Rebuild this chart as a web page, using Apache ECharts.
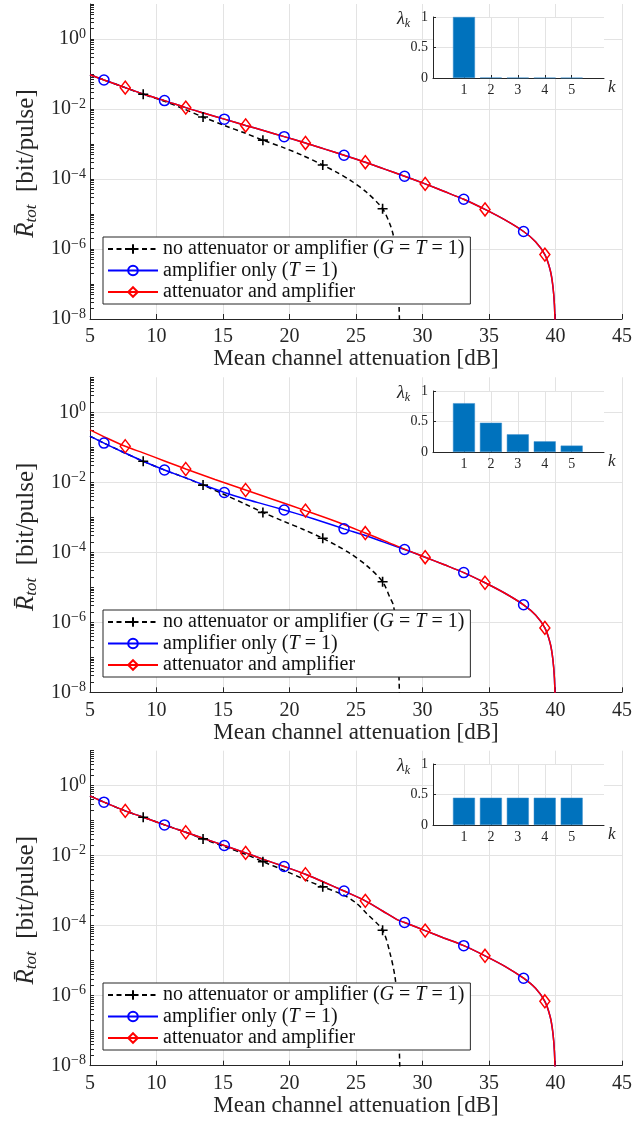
<!DOCTYPE html>
<html><head><meta charset="utf-8">
<script src="https://cdn.jsdelivr.net/npm/echarts@6/dist/echarts.min.js"></script>
<style>html,body{margin:0;padding:0;background:#fff}#c{width:644px;height:1125px}</style>
</head><body><div id="c"></div>
<script>
// ---------------- data (y values are log10 of R_tot [bit/pulse]) ----------------
const kValues = [1, 2, 3, 4, 5];
const lambda1 = [1, 0.008, 0.005, 0.004, 0.003];
const lambda2 = [0.8, 0.48, 0.29, 0.175, 0.105];
const lambda3 = [0.447, 0.447, 0.447, 0.447, 0.447];

const yTickExponents = [-8, -6, -4, -2, 0];
const xTicks = [5, 10, 15, 20, 25, 30, 35, 40, 45];

const markNone = [9.0, 13.5, 18.0, 22.5, 27.0];
const markAmp = [6.05, 10.6, 15.1, 19.6, 24.1, 28.65, 33.1, 37.6];
const markAtt = [7.65, 12.2, 16.7, 21.2, 25.7, 30.2, 34.7, 39.2];

// panel 1
const p1NoneX = [5.0, 6.05, 7.65, 9.0, 10.6, 12.0, 13.5, 15.1, 16.6, 18.0, 19.6, 21.0, 22.5, 23.6, 24.55, 25.8, 27.0, 27.56, 27.8, 28.0, 28.12, 28.2, 28.25, 28.3];
const p1NoneY = [-1.02, -1.17, -1.39, -1.58, -1.78, -1.99, -2.23, -2.47, -2.68, -2.89, -3.11, -3.33, -3.6, -3.82, -4.03, -4.38, -4.85, -5.3, -5.6, -6.05, -6.6, -7.2, -7.8, -8.6];
const p1AmpX = [5.0, 6.05, 7.65, 9.0, 10.6, 12.2, 13.6, 15.1, 16.7, 18.1, 19.6, 21.2, 22.6, 24.1, 25.7, 27.1, 28.65, 30.2, 31.6, 33.1, 34.7, 36.2, 37.6, 38.5, 39.2, 39.6, 39.8, 39.92, 40.0];
const p1AmpY = [-1.02, -1.17, -1.39, -1.57, -1.76, -1.96, -2.12, -2.29, -2.47, -2.62, -2.79, -2.97, -3.14, -3.32, -3.52, -3.71, -3.92, -4.14, -4.35, -4.58, -4.87, -5.17, -5.5, -5.79, -6.16, -6.6, -7.05, -7.6, -8.6];
const p1AttX = [5.0, 6.05, 7.65, 9.0, 10.6, 12.2, 13.6, 15.1, 16.7, 18.1, 19.6, 21.2, 22.6, 24.1, 25.7, 27.1, 28.65, 30.2, 31.6, 33.1, 34.7, 36.2, 37.6, 38.5, 39.2, 39.6, 39.8, 39.92, 40.0];
const p1AttY = [-1.02, -1.17, -1.39, -1.57, -1.76, -1.96, -2.12, -2.29, -2.47, -2.62, -2.79, -2.97, -3.14, -3.32, -3.52, -3.71, -3.92, -4.14, -4.35, -4.58, -4.87, -5.17, -5.5, -5.79, -6.16, -6.6, -7.05, -7.6, -8.6];

// panel 2
const p2NoneX = [5.0, 6.05, 7.5, 9.0, 10.6, 12.1, 13.5, 15.1, 16.6, 18.0, 19.6, 21.0, 22.5, 23.6, 24.55, 25.8, 27.0, 27.56, 27.8, 28.0, 28.12, 28.2, 28.25, 28.3];
const p2NoneY = [-0.68, -0.88, -1.14, -1.40, -1.65, -1.86, -2.08, -2.35, -2.61, -2.86, -3.12, -3.34, -3.6, -3.82, -4.03, -4.38, -4.84, -5.3, -5.5, -6.0, -6.6, -7.2, -7.8, -8.6];
const p2AmpX = [5.0, 6.05, 7.5, 9.0, 10.6, 12.1, 13.5, 15.1, 16.6, 18.1, 19.6, 21.1, 22.6, 24.1, 25.7, 27.1, 28.65, 30.2, 31.6, 33.1, 34.7, 36.2, 37.6, 38.5, 39.2, 39.6, 39.8, 39.92, 40.0];
const p2AmpY = [-0.68, -0.88, -1.14, -1.40, -1.65, -1.86, -2.07, -2.29, -2.47, -2.63, -2.79, -2.96, -3.14, -3.33, -3.52, -3.71, -3.92, -4.14, -4.35, -4.58, -4.87, -5.17, -5.5, -5.79, -6.16, -6.6, -7.05, -7.6, -8.6];
const p2AttX = [5.0, 6.3, 7.65, 9.0, 10.6, 12.2, 14.4, 16.7, 19.0, 21.2, 23.5, 25.7, 27.2, 28.65, 30.2, 31.6, 33.1, 34.7, 36.2, 37.6, 38.5, 39.2, 39.6, 39.8, 39.92, 40.0];
const p2AttY = [-0.5, -0.74, -0.97, -1.16, -1.39, -1.62, -1.92, -2.22, -2.52, -2.81, -3.12, -3.45, -3.68, -3.91, -4.14, -4.35, -4.58, -4.87, -5.17, -5.5, -5.79, -6.16, -6.6, -7.05, -7.6, -8.6];

// panel 3
const p3NoneX = [5.0, 6.05, 7.65, 9.0, 10.6, 12.2, 13.5, 15.1, 16.7, 18.0, 19.6, 21.2, 22.5, 24.05, 25.0, 25.8, 27.0, 27.56, 27.93, 28.1, 28.2, 28.27, 28.32];
const p3NoneY = [-0.29, -0.47, -0.72, -0.9, -1.12, -1.33, -1.52, -1.74, -1.96, -2.17, -2.42, -2.69, -2.89, -3.12, -3.35, -3.65, -4.13, -4.79, -5.46, -6.1, -6.9, -7.7, -8.6];
const p3AmpX = [5.0, 6.05, 7.65, 9.0, 10.6, 12.2, 13.5, 15.1, 16.7, 18.0, 19.6, 21.2, 22.6, 24.1, 25.7, 27.0, 28.05, 28.65, 30.2, 31.6, 33.1, 34.7, 36.2, 37.6, 38.5, 39.2, 39.6, 39.8, 39.92, 40.0];
const p3AmpY = [-0.29, -0.47, -0.72, -0.9, -1.12, -1.33, -1.5, -1.71, -1.92, -2.1, -2.31, -2.53, -2.76, -3.01, -3.29, -3.58, -3.82, -3.91, -4.14, -4.35, -4.57, -4.86, -5.16, -5.5, -5.79, -6.16, -6.6, -7.05, -7.6, -8.6];
const p3AttX = p3AmpX.slice();
const p3AttY = [-0.29, -0.47, -0.72, -0.9, -1.12, -1.33, -1.5, -1.71, -1.92, -2.1, -2.31, -2.53, -2.76, -3.01, -3.29, -3.58, -3.82, -3.91, -4.14, -4.35, -4.57, -4.86, -5.16, -5.5, -5.79, -6.16, -6.6, -7.05, -7.6, -8.6];

const seriesNames = ['no attenuator or amplifier (G = T = 1)', 'amplifier only (T = 1)', 'attenuator and amplifier'];

// ---------------- layout & style ----------------
const FONT = 'Liberation Serif';
const AX = '#262626';
const GRIDC = '#e3e3e3';
const mainTops = [4, 377.3, 750.7];
const insetTops = [17, 391, 764];
const legendTops = [237, 610, 983];

const panels = [
  {none: [p1NoneX, p1NoneY], amp: [p1AmpX, p1AmpY], att: [p1AttX, p1AttY], lam: lambda1},
  {none: [p2NoneX, p2NoneY], amp: [p2AmpX, p2AmpY], att: [p2AttX, p2AttY], lam: lambda2},
  {none: [p3NoneX, p3NoneY], amp: [p3AmpX, p3AmpY], att: [p3AttX, p3AttY], lam: lambda3}
];

function lineData(xs, ys, marks) {
  return xs.map((x, i) => {
    const isM = marks.some(m => Math.abs(m - x) < 1e-6);
    return isM ? {value: [x, ys[i]]} : {value: [x, ys[i]], symbol: 'none'};
  });
}

const minorTicks = [];
for (let n = -8; n <= 0; n++) for (let k = 1; k <= 9; k++) minorTicks.push(n + Math.log10(k));
minorTicks.push(1);

const grids = [], xAxes = [], yAxes = [], series = [], legends = [];
const legendRich = {
  [seriesNames[0]]: '{t|no attenuator or amplifier (}{i|G}{t| = }{i|T}{t| = 1)}',
  [seriesNames[1]]: '{t|amplifier only (}{i|T}{t| = 1)}',
  [seriesNames[2]]: '{t|attenuator and amplifier}'
};

// main grids
for (let i = 0; i < 3; i++) {
  grids.push({left: 90, top: mainTops[i], width: 532, height: 315, containLabel: false, z: 0});
  xAxes.push({
    gridIndex: i, type: 'value', min: xTicks[0], max: xTicks[xTicks.length - 1], interval: 5,
    axisLine: {show: true, onZero: false, lineStyle: {color: AX, width: 1}},
    axisTick: {show: true, inside: true, length: 5, lineStyle: {color: AX}},
    axisLabel: {margin: 8, color: AX, fontFamily: FONT, fontSize: 20},
    splitLine: {show: true, lineStyle: {color: GRIDC, width: 1}},
    name: 'Mean channel attenuation [dB]', nameLocation: 'middle', nameGap: 27,
    nameTextStyle: {fontFamily: FONT, fontSize: 23, color: AX}, z: 0
  });
}
for (let i = 0; i < 3; i++) {
  grids.push({left: 433, top: insetTops[i], width: 171, height: 61, show: true,
    backgroundColor: '#ffffff', borderWidth: 0, z: 1});
  xAxes.push({
    gridIndex: 3 + i, type: 'value', min: -0.15, max: 6.2,
    axisLine: {show: true, onZero: false, lineStyle: {color: AX, width: 1}},
    axisTick: {show: true, inside: true, length: 3, customValues: kValues, lineStyle: {color: AX}},
    axisLabel: {customValues: kValues, margin: 5, color: AX, fontFamily: FONT, fontSize: 14},
    splitLine: {show: true, lineStyle: {color: GRIDC, width: 1}},
    name: 'k', nameLocation: 'end', nameGap: 4,
    nameTextStyle: {fontFamily: FONT, fontSize: 17, fontStyle: 'italic', color: AX, verticalAlign: 'top', padding: [1, 0, 0, 0]},
    z: 2
  });
}
for (let i = 0; i < 3; i++) {
  yAxes.push({
    gridIndex: i, type: 'value', min: -8, max: 1, interval: 2,
    axisLine: {show: true, onZero: false, lineStyle: {color: AX, width: 1}},
    axisTick: {show: false},
    axisLabel: {
      margin: 4, color: AX, fontFamily: FONT, fontSize: 20,
      formatter: v => (yTickExponents.indexOf(v) < 0 ? '' : '{b|10}{e|' + (v < 0 ? '\u2212' + (-v) : v) + '}'),
      rich: {b: {fontSize: 20, fontFamily: FONT, color: AX}, e: {fontSize: 14, fontFamily: FONT, color: AX, padding: [0, 0, 10, 0]}}
    },
    splitLine: {show: true, showMaxLine: false, lineStyle: {color: GRIDC, width: 1}},
    name: '{r|R\u0304}{s|tot}{n|  [bit/pulse]}', nameLocation: 'middle', nameGap: 46,
    nameTextStyle: {fontFamily: FONT, fontSize: 25, color: AX, padding: [0, 4, 0, 0], rich: {
      r: {fontSize: 25, fontStyle: 'italic', fontFamily: FONT, color: AX},
      s: {fontSize: 17, fontStyle: 'italic', fontFamily: FONT, color: AX, padding: [11, 0, 0, 0]},
      n: {fontSize: 25, fontFamily: FONT, color: AX}
    }},
    z: 0
  });
}
for (let i = 0; i < 3; i++) {
  yAxes.push({
    gridIndex: 3 + i, type: 'value', min: 0, max: 1, interval: 0.5,
    axisLine: {show: true, onZero: false, lineStyle: {color: AX, width: 1}},
    axisTick: {show: true, inside: true, length: 3, lineStyle: {color: AX}},
    axisLabel: {margin: 5, color: AX, fontFamily: FONT, fontSize: 14},
    splitLine: {show: true, lineStyle: {color: GRIDC, width: 1}},
    name: '{l|\u03bb}{s|k}', nameLocation: 'end', nameGap: -2,
    nameTextStyle: {align: 'right', verticalAlign: 'middle', padding: [0, 23, 0, 0], rich: {
      l: {fontSize: 18, fontStyle: 'italic', fontFamily: FONT, color: AX},
      s: {fontSize: 12, fontStyle: 'italic', fontFamily: FONT, color: AX, padding: [9, 0, 0, 0]}
    }},
    z: 2
  });
}
for (let i = 0; i < 3; i++) {
  yAxes.push({
    gridIndex: i, type: 'value', min: -8, max: 1, position: 'left',
    axisLine: {show: false}, axisLabel: {show: false}, splitLine: {show: false},
    axisTick: {show: true, inside: true, length: 4, customValues: minorTicks, lineStyle: {color: AX}},
    z: 0
  });
}

for (let i = 0; i < 3; i++) {
  const P = panels[i];
  series.push({
    type: 'line', name: seriesNames[0], xAxisIndex: i, yAxisIndex: i,
    data: lineData(P.none[0], P.none[1], markNone), smooth: 0.3,
    symbol: 'path://M5,0L5,10M0,5L10,5', symbolSize: 10, showSymbol: true, showAllSymbol: true,
    lineStyle: {color: '#000', width: 1.5, type: [5, 3.5]},
    itemStyle: {color: '#000', borderColor: '#000', borderWidth: 1.6},
    emphasis: {disabled: true}, z: 2
  });
  series.push({
    type: 'line', name: seriesNames[1], xAxisIndex: i, yAxisIndex: i,
    data: lineData(P.amp[0], P.amp[1], markAmp), smooth: 0.3,
    symbol: 'circle', symbolSize: 10, showSymbol: true, showAllSymbol: true,
    lineStyle: {color: '#0000ff', width: 1.5},
    itemStyle: {color: 'rgba(0,0,0,0)', borderColor: '#0000ff', borderWidth: 1.5},
    emphasis: {disabled: true}, z: 2
  });
  series.push({
    type: 'line', name: seriesNames[2], xAxisIndex: i, yAxisIndex: i,
    data: lineData(P.att[0], P.att[1], markAtt), smooth: 0.3,
    symbol: 'diamond', symbolSize: [10, 13], showSymbol: true, showAllSymbol: true,
    lineStyle: {color: '#ff0000', width: 1.5},
    itemStyle: {color: 'rgba(0,0,0,0)', borderColor: '#ff0000', borderWidth: 1.5},
    emphasis: {disabled: true}, z: 2
  });
  series.push({
    type: 'bar', xAxisIndex: 3 + i, yAxisIndex: 3 + i,
    data: kValues.map((k, j) => [k, P.lam[j]]), barWidth: 22,
    itemStyle: {color: '#0072BD', borderColor: '#3d8fcc', borderWidth: 0.5},
    emphasis: {disabled: true}, z: 3
  });
  legends.push({
    left: 103, top: legendTops[i], orient: 'vertical', data: seriesNames,
    itemWidth: 50, itemHeight: 12, itemGap: 1.5, padding: [2, 6, 2, 4],
    backgroundColor: '#ffffff', borderColor: AX, borderWidth: 1, borderRadius: 0,
    selectedMode: false,
    formatter: name => legendRich[name],
    textStyle: {fontFamily: FONT, fontSize: 20, color: '#111', rich: {
      t: {fontFamily: FONT, fontSize: 20, color: '#111'},
      i: {fontFamily: FONT, fontSize: 20, fontStyle: 'italic', color: '#111'}
    }}
  });
}

const chart = echarts.init(document.getElementById('c'), null, {renderer: 'canvas'});
chart.setOption({
  animation: false,
  backgroundColor: '#ffffff',
  grid: grids, xAxis: xAxes, yAxis: yAxes, series: series, legend: legends
});
</script></body></html>
